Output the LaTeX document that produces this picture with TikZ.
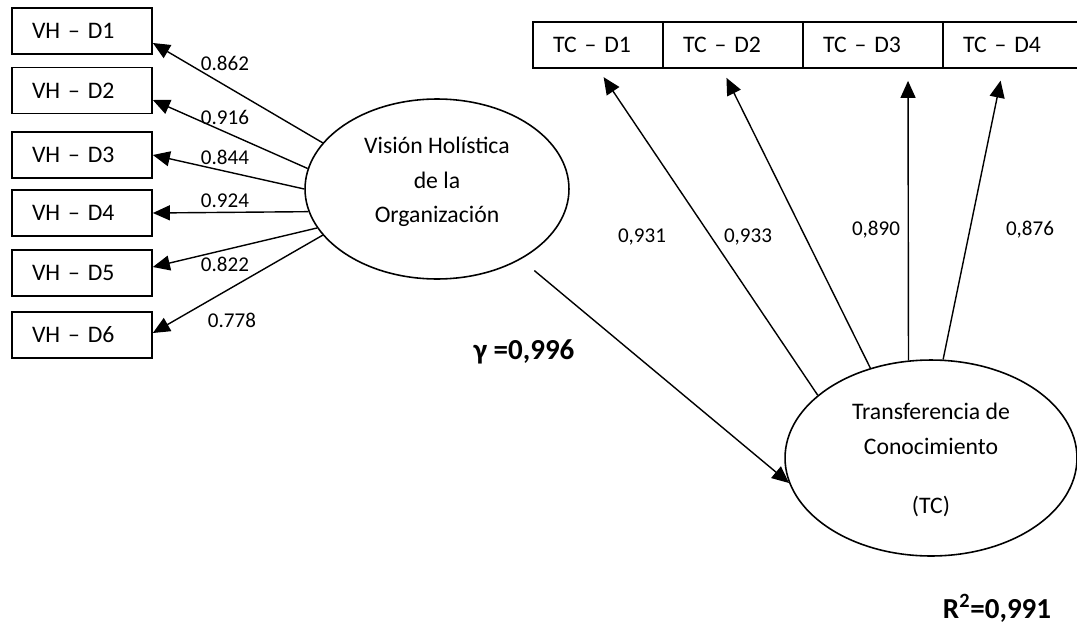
\documentclass[tikz,border=0pt]{standalone}
\usepackage{fontspec}
\setmainfont{Carlito}
\usetikzlibrary{arrows.meta,shapes.geometric}

\begin{document}
\begin{tikzpicture}[x=0.02cm,y=-0.02cm,
  ind/.style={draw,line width=1pt,minimum height=0.92cm,inner ysep=0pt,
    inner xsep=0.4cm,text width=2cm,align=left,font=\fontsize{13.5}{16}\selectfont},
  lat/.style={draw,ellipse,line width=0.9pt,inner sep=0pt},
  lattext/.style={align=center,font=\fontsize{13.5}{19.5}\selectfont},
  load/.style={font=\fontsize{12}{14}\selectfont},
  coef/.style={font=\fontsize{16.5}{18}\selectfont\bfseries},
  arr/.style={-{Triangle[length=0.34cm,width=0.3cm]},line width=0.8pt}]
  \path[use as bounding box,clip] (0,0) rectangle (1077,625);

  % indicadores de la vision holistica
  \node[ind] (vhd1) at (82,31) {VH -- D1};
  \node[ind] (vhd2) at (82,90.5) {VH -- D2};
  \node[ind] (vhd3) at (82,155) {VH -- D3};
  \node[ind] (vhd4) at (82,213) {VH -- D4};
  \node[ind] (vhd5) at (82,273) {VH -- D5};
  \node[ind] (vhd6) at (82,335) {VH -- D6};

  % indicadores de la transferencia
  \node[ind,text width=1.8cm] (tcd1) at (598,45) {TC -- D1};
  \node[ind] (tcd2) at (733,45) {TC -- D2};
  \node[ind] (tcd3) at (873,45) {TC -- D3};
  \node[ind] (tcd4) at (1013,45) {TC -- D4};

  % constructos
  \node[lat,minimum width=5.28cm,minimum height=3.6cm] (vho) at (437,189) {};
  \node[lattext] (vhotext) at (437,182) {Visión Holística\\de la\\Organización};
  \node[lat,minimum width=5.84cm,minimum height=3.92cm] (tc) at (931,458) {};
  \node[lattext] (tctext) at (931,460) {Transferencia de\\Conocimiento\\[0.5cm](TC)};

  \draw[arr] (vho.158) -- ([yshift=-0.24cm]vhd1.east);
  \draw[arr] (vho.171) -- ([yshift=-0.19cm]vhd2.east);
  \draw[arr] (vho.180) -- (vhd3.east);
  \draw[arr] (vho.190) -- (vhd4.east);
  \draw[arr] (vho.198) -- ([yshift=0.12cm]vhd5.east);
  \draw[arr] (vho.202) -- ([yshift=0.04cm]vhd6.east);

  \draw[arr,shorten >=0.2cm] (tc.151) -- (tcd1.south);
  \draw[arr,shorten >=0.2cm] (tc.124) -- ([xshift=-0.22cm]tcd2.south);
  \draw[arr,shorten >=0.24cm] (tc.103) -- ([xshift=0.7cm]tcd3.south);
  \draw[arr,shorten >=0.24cm] (tc.83) -- ([xshift=-0.2cm]tcd4.south);

  \draw[arr,shorten <=0.35cm] (vho.320) -- (tc.190);

  % cargas
  \node[load] (l1) at (225,63) {0.862};
  \node[load] (l2) at (225,117) {0.916};
  \node[load] (l3) at (225,157) {0.844};
  \node[load] (l4) at (225,201) {0.924};
  \node[load] (l5) at (225,264) {0.822};
  \node[load] (l6) at (232,320) {0.778};
  \node[load] (m1) at (642,237) {0,931};
  \node[load] (m2) at (748,237) {0,933};
  \node[load] (m3) at (876,230) {0,890};
  \node[load] (m4) at (1030,230) {0,876};

  \node[coef] (gamma) at (524,352) {γ =0,996};
  \node[coef] (rsq) at (997,608) {R\textsuperscript{2}=0,991};
\end{tikzpicture}
\end{document}
